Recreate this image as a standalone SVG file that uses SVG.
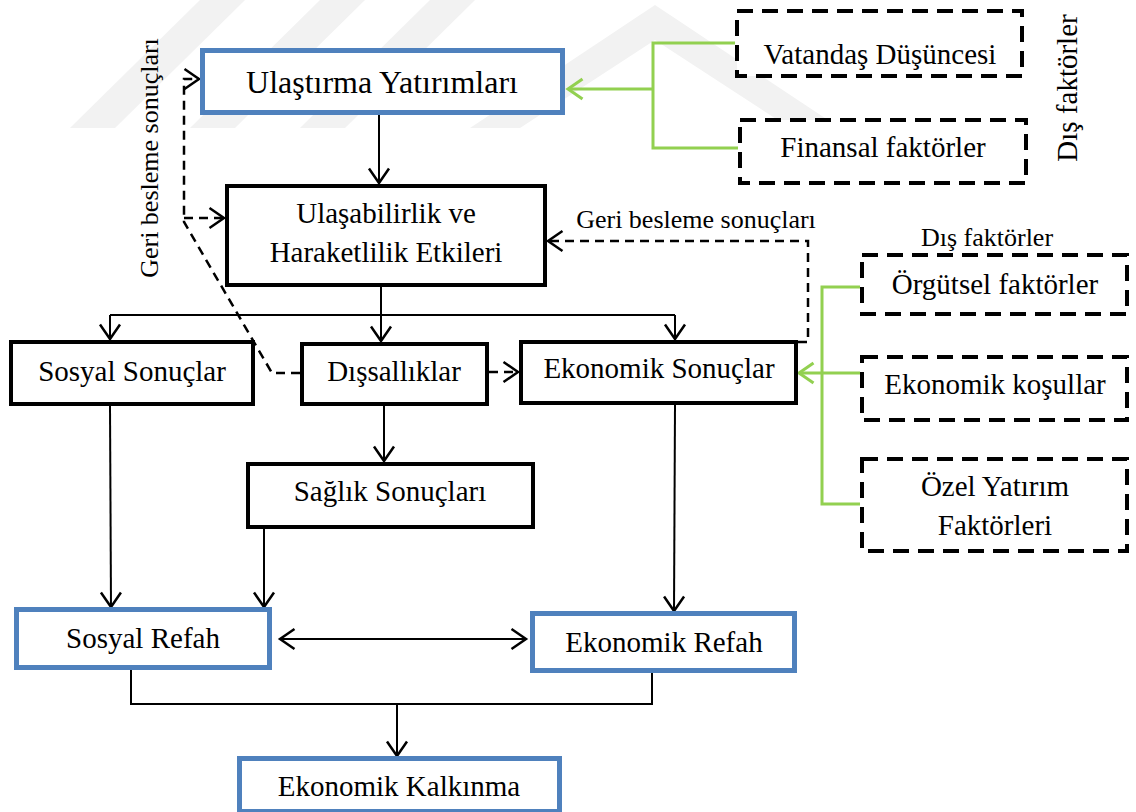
<svg xmlns="http://www.w3.org/2000/svg" width="1136" height="812" viewBox="0 0 1136 812">
<style>
.blue{fill:#fff;stroke:#4F81BD;stroke-width:5}
.blk{fill:#fff;stroke:#000;stroke-width:4}
.dsh{fill:#fff;stroke:#000;stroke-width:4;stroke-dasharray:16 9}
.t{font-family:"Liberation Serif","Times New Roman",serif;font-size:29px;text-anchor:middle;fill:#000}
.s{font-size:26px}
.c{fill:none;stroke:#000;stroke-width:2}
.cd{fill:none;stroke:#000;stroke-width:2.5;stroke-dasharray:9 6}
.g{fill:none;stroke:#92D050;stroke-width:3}
.wm{fill:#f2f2f2}
</style>
<defs>
<marker id="ah" markerUnits="userSpaceOnUse" viewBox="0 0 17 22" refX="15.5" refY="11" markerWidth="17" markerHeight="22" orient="auto-start-reverse" overflow="visible">
<path d="M1,1 L15.5,11 L1,21" fill="none" stroke="#000" stroke-width="2.5"/>
</marker>
<marker id="ahg" markerUnits="userSpaceOnUse" viewBox="0 0 17 22" refX="15.5" refY="11" markerWidth="17" markerHeight="22" orient="auto" overflow="visible">
<path d="M1,1 L15.5,11 L1,21" fill="none" stroke="#92D050" stroke-width="3"/>
</marker>
</defs>
<rect width="1136" height="812" fill="#fff"/>
<g id="watermark">
<polygon class="wm" points="70,128 115,128 245,0 200,0"/>
<polygon class="wm" points="190,128 235,128 365,0 320,0"/>
<polygon class="wm" points="300,128 345,128 475,0 430,0"/>
<polygon class="wm" points="470,128 520,128 655,40 790,128 840,128 655,5"/>
</g>
<g id="connectors">
<path class="c" d="M379,115 L379,183" marker-end="url(#ah)"/>
<path class="c" d="M381,287 L381,341" marker-end="url(#ah)"/>
<path class="c" d="M110,315 L675,315"/>
<path class="c" d="M110,315 L110,339" marker-end="url(#ah)"/>
<path class="c" d="M675,315 L675,339" marker-end="url(#ah)"/>
<path class="c" d="M384,406 L384,461" marker-end="url(#ah)"/>
<path class="c" d="M110,406 L111,607" marker-end="url(#ah)"/>
<path class="c" d="M264,529 L264,607" marker-end="url(#ah)"/>
<path class="c" d="M675,405 L674,611" marker-end="url(#ah)"/>
<path class="c" d="M280,639 L526,639" marker-start="url(#ah)" marker-end="url(#ah)"/>
<path class="c" d="M131,670 L131,704 L652,704 L652,673"/>
<path class="c" d="M397,704 L397,756" marker-end="url(#ah)"/>
<path class="cd" d="M489,372 L518,372" marker-end="url(#ah)"/>
<path class="cd" d="M300,373 L272,373 L184,222 L184,79 L199,79" marker-end="url(#ah)"/>
<path class="cd" d="M184,218 L224,218" marker-end="url(#ah)"/>
<path class="cd" d="M798,342 L808,342 L808,241 L548,241" marker-end="url(#ah)"/>
<path class="g" d="M735,43 L653,43 L653,148 L738,148"/>
<path class="g" d="M653,89 L568,89" marker-end="url(#ahg)"/>
<path class="g" d="M860,287 L822,287 L822,504 L860,504"/>
<path class="g" d="M860,373 L799,373" marker-end="url(#ahg)"/>
</g>
<g id="ulastirma"><rect class="blue" x="202.5" y="50.5" width="360" height="62"/><text class="t" x="382" y="93" style="font-size:32px">Ulaştırma Yatırımları</text></g>
<g id="ulasabilirlik"><rect class="blk" x="227" y="186" width="318" height="99"/><text class="t" x="386" y="223">Ulaşabilirlik ve</text><text class="t" x="386" y="262">Haraketlilik Etkileri</text></g>
<g id="sosyal-sonuclar"><rect class="blk" x="11" y="342" width="242" height="62"/><text class="t" x="132" y="381">Sosyal Sonuçlar</text></g>
<g id="dissalliklar"><rect class="blk" x="302" y="344" width="185" height="60"/><text class="t" x="394" y="381">Dışsallıklar</text></g>
<g id="ekonomik-sonuclar"><rect class="blk" x="521" y="342" width="275" height="61"/><text class="t" x="659" y="378">Ekonomik Sonuçlar</text></g>
<g id="saglik"><rect class="blk" x="248" y="464" width="285" height="63"/><text class="t" x="390" y="501">Sağlık Sonuçları</text></g>
<g id="sosyal-refah"><rect class="blue" x="16.5" y="609.5" width="253" height="58"/><text class="t" x="143" y="648">Sosyal Refah</text></g>
<g id="ekonomik-refah"><rect class="blue" x="532.5" y="613.5" width="262" height="57"/><text class="t" x="664" y="652">Ekonomik Refah</text></g>
<g id="ekonomik-kalkinma"><rect class="blue" x="239.5" y="758.5" width="320" height="53"/><text class="t" x="399" y="796">Ekonomik Kalkınma</text></g>
<g id="vatandas"><rect class="dsh" x="737" y="11" width="285" height="65"/><text class="t" x="880" y="64">Vatandaş Düşüncesi</text></g>
<g id="finansal"><rect class="dsh" x="740" y="120" width="286" height="63"/><text class="t" x="883" y="157">Finansal faktörler</text></g>
<g id="orgutsel"><rect class="dsh" x="862" y="255" width="265" height="59"/><text class="t" x="995" y="294">Örgütsel faktörler</text></g>
<g id="ekonomik-kosullar"><rect class="dsh" x="862" y="357" width="265" height="63"/><text class="t" x="995" y="394">Ekonomik koşullar</text></g>
<g id="ozel-yatirim"><rect class="dsh" x="862" y="459" width="265" height="92"/><text class="t" x="995" y="496">Özel Yatırım</text><text class="t" x="995" y="535">Faktörleri</text></g>
<g id="labels">
<text class="t s" x="696" y="228">Geri besleme sonuçları</text>
<text class="t s" x="987" y="246">Dış faktörler</text>
<text class="t s" transform="translate(158,158) rotate(-90)">Geri besleme sonuçları</text>
<text class="t" transform="translate(1077,88) rotate(-90)">Dış faktörler</text>
</g>
</svg>
